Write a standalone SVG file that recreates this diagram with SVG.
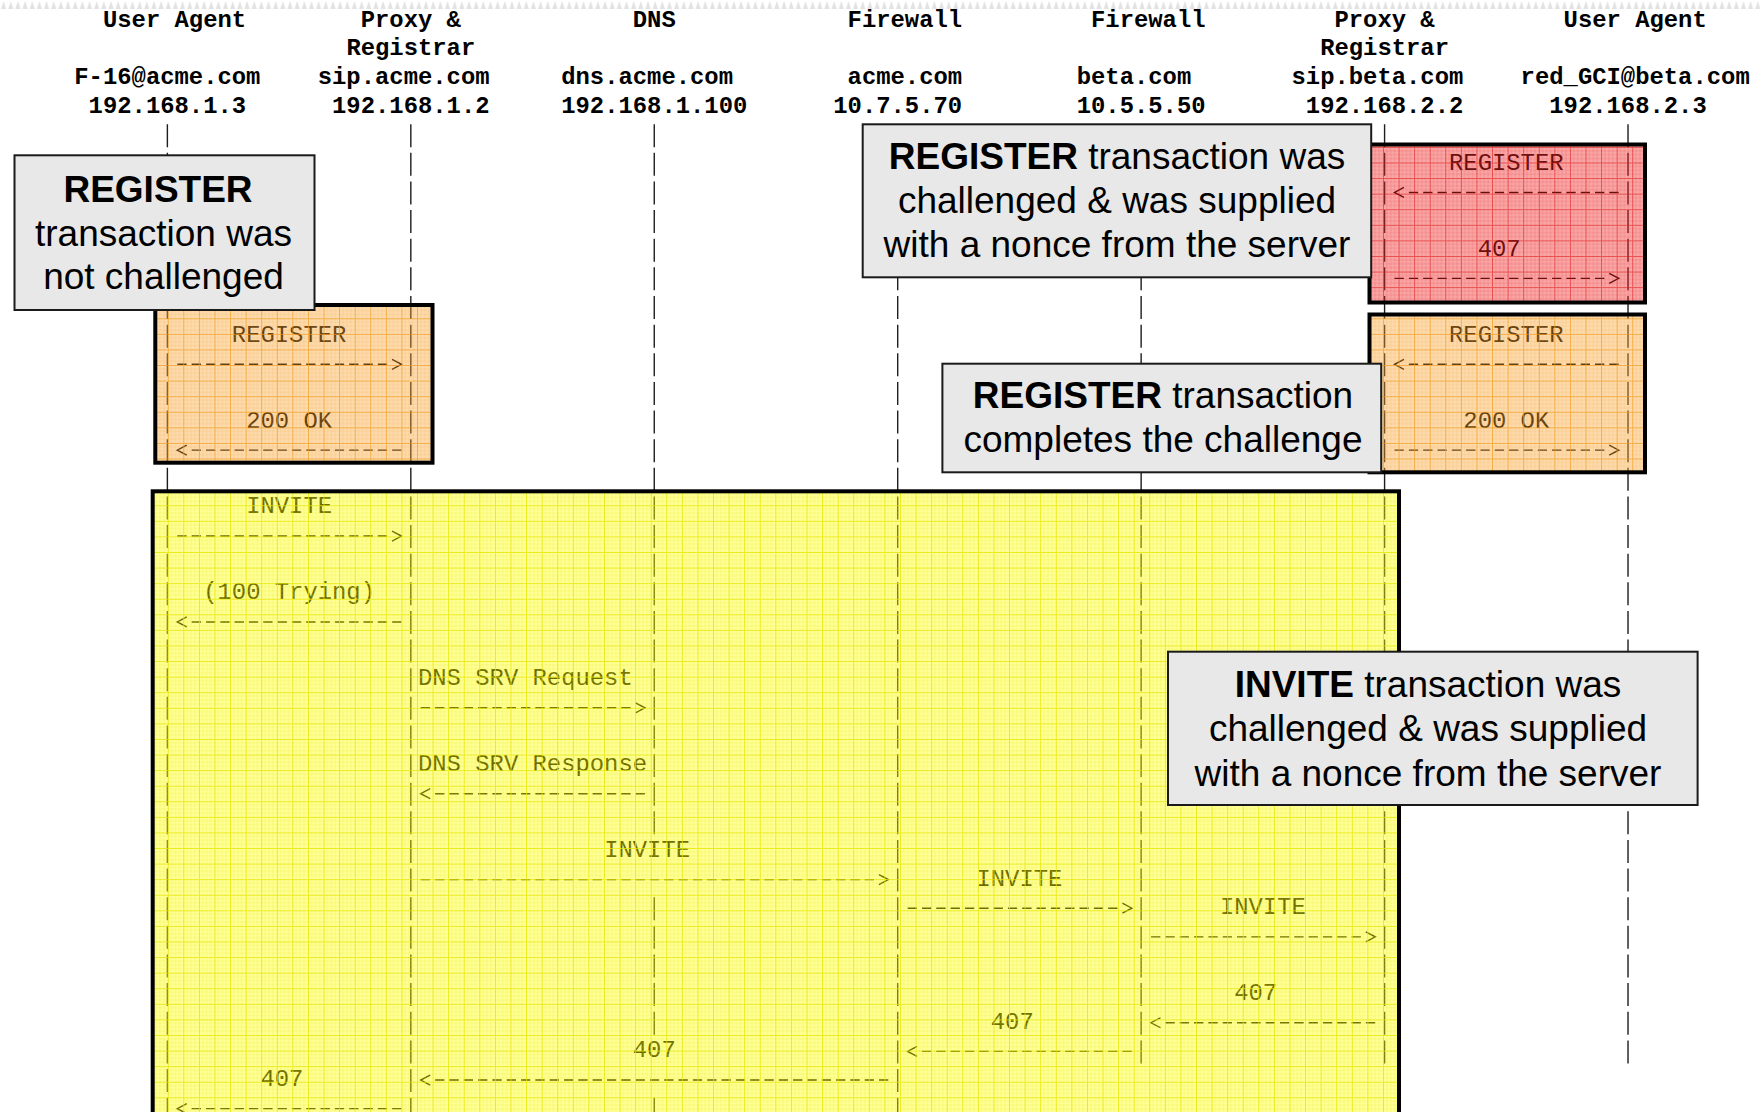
<svg xmlns="http://www.w3.org/2000/svg" width="1762" height="1112" viewBox="0 0 1762 1112">
  <style>
    .hdr { font-family: "Liberation Mono", "Courier New", monospace; font-size: 23.87px; font-weight: bold; fill: #000; }
    .msg { font-family: "Liberation Mono", "Courier New", monospace; font-size: 23.87px; fill: #000; }
    .life { stroke: #1e1e1e; stroke-width: 1.4; stroke-dasharray: 23 5.63; fill: none; }
    .arrow { stroke: #000; stroke-width: 1.4; stroke-dasharray: 9.3 5.02; fill: none; marker-end: url(#chev); }
    .hl { stroke: #000; stroke-width: 4; }
    .note rect { fill: #e8e8e8; stroke: #1a1a1a; stroke-width: 2; }
    .note text { font-family: "Liberation Sans", Arial, sans-serif; font-size: 37px; fill: #000; text-anchor: middle; }
    .note .b { font-weight: bold; }
  </style>
  <defs>
    <!-- open chevron drawn one character cell past the last dash -->
    <marker id="chev" markerUnits="userSpaceOnUse" orient="auto" viewBox="0 -7 20 14" refX="0" refY="0" markerWidth="20" markerHeight="14" overflow="visible">
      <path d="M4.9,-5 L14.4,0 L4.9,5" fill="none" stroke="#000" stroke-width="1.4" stroke-dasharray="none"/>
    </marker>
    <!-- graph-paper fills for the highlighted transactions -->
    <pattern id="gridOrange" patternUnits="userSpaceOnUse" x="11.92" y="6.7" width="15.58" height="15.58">
      <rect width="15.58" height="15.58" fill="#f7a02a" fill-opacity="0.38"/>
      <path d="M3.9,0V15.58M7.79,0V15.58M11.69,0V15.58M0,3.9H15.58M0,7.79H15.58M0,11.69H15.58" stroke="#f39a1a" stroke-opacity="0.25" stroke-width="0.7"/>
      <path d="M0.5,0V15.58M0,0.5H15.58" stroke="#f39a1a" stroke-opacity="0.7" stroke-width="1"/>
    </pattern>
    <pattern id="gridYellow" patternUnits="userSpaceOnUse" x="11.92" y="6.7" width="15.58" height="15.58">
      <rect width="15.58" height="15.58" fill="#ffff00" fill-opacity="0.4"/>
      <path d="M3.9,0V15.58M7.79,0V15.58M11.69,0V15.58M0,3.9H15.58M0,7.79H15.58M0,11.69H15.58" stroke="#e8e800" stroke-opacity="0.3" stroke-width="0.7"/>
      <path d="M0.5,0V15.58M0,0.5H15.58" stroke="#e6e600" stroke-opacity="0.8" stroke-width="1"/>
    </pattern>
    <pattern id="gridRed" patternUnits="userSpaceOnUse" x="11.92" y="6.7" width="15.58" height="15.58">
      <rect width="15.58" height="15.58" fill="#f02020" fill-opacity="0.4"/>
      <path d="M3.9,0V15.58M7.79,0V15.58M11.69,0V15.58M0,3.9H15.58M0,7.79H15.58M0,11.69H15.58" stroke="#e82020" stroke-opacity="0.25" stroke-width="0.7"/>
      <path d="M0.5,0V15.58M0,0.5H15.58" stroke="#e01818" stroke-opacity="0.6" stroke-width="1"/>
    </pattern>
    <pattern id="edge" patternUnits="userSpaceOnUse" x="0" y="0" width="7.16" height="10">
      <path d="M1,9 L3.6,1 L6.2,9 Z" fill="#e2e2e2"/>
    </pattern>
  </defs>

  <rect width="1762" height="1112" fill="#fff"/>
  <rect x="0" y="0" width="1762" height="10" fill="url(#edge)"/>

  <!-- participants: header text and lifeline -->
  <g id="ua-f16">
    <text class="hdr" x="102.94" y="26.7">User Agent</text>
    <text class="hdr" x="74.3" y="83.96">F-16@acme.com</text>
    <text class="hdr" x="88.62" y="112.59">192.168.1.3</text>
    <line class="life" x1="167.38" y1="124.22" x2="167.38" y2="1120.64"/>
  </g>
  <g id="proxy-acme">
    <text class="hdr" x="360.7" y="26.7">Proxy &amp;</text>
    <text class="hdr" x="346.38" y="55.33">Registrar</text>
    <text class="hdr" x="317.74" y="83.96">sip.acme.com</text>
    <text class="hdr" x="332.06" y="112.59">192.168.1.2</text>
    <line class="life" x1="410.82" y1="124.22" x2="410.82" y2="1120.64"/>
  </g>
  <g id="dns-acme">
    <text class="hdr" x="632.78" y="26.7">DNS</text>
    <text class="hdr" x="561.18" y="83.96">dns.acme.com</text>
    <text class="hdr" x="561.18" y="112.59">192.168.1.100</text>
    <line class="life" x1="654.26" y1="124.22" x2="654.26" y2="834.34"/>
    <line class="life" x1="654.26" y1="897.23" x2="654.26" y2="1034.75"/>
    <line class="life" x1="654.26" y1="1097.64" x2="654.26" y2="1120.64"/>
  </g>
  <g id="fw-acme">
    <text class="hdr" x="847.58" y="26.7">Firewall</text>
    <text class="hdr" x="847.58" y="83.96">acme.com</text>
    <text class="hdr" x="833.26" y="112.59">10.7.5.70</text>
    <line class="life" x1="897.7" y1="124.22" x2="897.7" y2="1120.64"/>
  </g>
  <g id="fw-beta">
    <text class="hdr" x="1091.02" y="26.7">Firewall</text>
    <text class="hdr" x="1076.7" y="83.96">beta.com</text>
    <text class="hdr" x="1076.7" y="112.59">10.5.5.50</text>
    <line class="life" x1="1141.14" y1="124.22" x2="1141.14" y2="1063.38"/>
  </g>
  <g id="proxy-beta">
    <text class="hdr" x="1334.46" y="26.7">Proxy &amp;</text>
    <text class="hdr" x="1320.14" y="55.33">Registrar</text>
    <text class="hdr" x="1291.5" y="83.96">sip.beta.com</text>
    <text class="hdr" x="1305.82" y="112.59">192.168.2.2</text>
    <line class="life" x1="1384.58" y1="124.22" x2="1384.58" y2="1063.38"/>
  </g>
  <g id="ua-red">
    <text class="hdr" x="1563.58" y="26.7">User Agent</text>
    <text class="hdr" x="1520.62" y="83.96">red_GCI@beta.com</text>
    <text class="hdr" x="1549.26" y="112.59">192.168.2.3</text>
    <line class="life" x1="1628.02" y1="124.22" x2="1628.02" y2="1063.38"/>
  </g>

  <!-- messages -->
  <g id="connectors">
    <!-- REGISTER F-16 -> sip.acme -->
    <text class="msg" x="231.82" y="341.63">REGISTER</text>
    <path class="arrow" d="M177.34,364.26H387.12"/>
    <text class="msg" x="246.14" y="427.52">200 OK</text>
    <path class="arrow" d="M401.44,450.15H191.66"/>

    <!-- REGISTER red_GCI -> sip.beta, challenged -->
    <text class="msg" x="1449.02" y="169.85">REGISTER</text>
    <path class="arrow" d="M1618.64,192.48H1408.86"/>
    <text class="msg" x="1477.66" y="255.74">407</text>
    <path class="arrow" d="M1394.54,278.37H1604.32"/>

    <!-- REGISTER red_GCI -> sip.beta, with credentials -->
    <text class="msg" x="1449.02" y="341.63">REGISTER</text>
    <path class="arrow" d="M1618.64,364.26H1408.86"/>
    <text class="msg" x="1463.34" y="427.52">200 OK</text>
    <path class="arrow" d="M1394.54,450.15H1604.32"/>

    <!-- INVITE towards beta.com -->
    <text class="msg" x="246.14" y="513.41">INVITE</text>
    <path class="arrow" d="M177.34,536.04H387.12"/>
    <text class="msg" x="203.18" y="599.3">(100 Trying)</text>
    <path class="arrow" d="M401.44,621.93H191.66"/>
    <text class="msg" x="417.98" y="685.19">DNS SRV Request</text>
    <path class="arrow" d="M420.78,707.82H630.56"/>
    <text class="msg" x="417.98" y="771.08">DNS SRV Response</text>
    <path class="arrow" d="M644.88,793.71H435.1"/>
    <text class="msg" x="604.14" y="856.97">INVITE</text>
    <path class="arrow" d="M420.78,879.6H874"/>
    <text class="msg" x="976.46" y="885.6">INVITE</text>
    <path class="arrow" d="M907.66,908.23H1117.44"/>
    <text class="msg" x="1219.9" y="914.23">INVITE</text>
    <path class="arrow" d="M1151.1,936.86H1360.88"/>

    <!-- 407 back to the caller -->
    <text class="msg" x="1234.22" y="1000.12">407</text>
    <path class="arrow" d="M1375.2,1022.75H1165.42"/>
    <text class="msg" x="990.78" y="1028.75">407</text>
    <path class="arrow" d="M1131.76,1051.38H921.98"/>
    <text class="msg" x="632.78" y="1057.38">407</text>
    <path class="arrow" d="M888.32,1080.01H435.1"/>
    <text class="msg" x="260.46" y="1086.01">407</text>
    <path class="arrow" d="M401.44,1108.64H191.66"/>
  </g>

  <!-- highlighted transactions -->
  <g id="tx-register-acme">
    <rect class="hl" x="155.3" y="305" width="277.2" height="157.7" fill="url(#gridOrange)"/>
  </g>
  <g id="tx-register-beta-407">
    <rect class="hl" x="1369.5" y="144.5" width="275.5" height="158" fill="url(#gridRed)"/>
  </g>
  <g id="tx-register-beta-200">
    <rect class="hl" x="1369.5" y="314.5" width="275.5" height="157.8" fill="url(#gridOrange)"/>
  </g>
  <g id="tx-invite">
    <rect class="hl" x="152.7" y="491.3" width="1246.3" height="680" fill="url(#gridYellow)"/>
  </g>

  <!-- callouts -->
  <g id="note-register-unchallenged" class="note">
    <rect x="14.5" y="155.3" width="300" height="154.7"/>
    <text x="158" y="201.7" class="b">REGISTER</text>
    <text x="163.5" y="245.5">transaction was</text>
    <text x="163.5" y="289.3">not challenged</text>
  </g>
  <g id="note-register-challenged" class="note">
    <rect x="862.7" y="124.3" width="508.5" height="153"/>
    <text x="1117" y="169.3"><tspan class="b">REGISTER</tspan> transaction was</text>
    <text x="1117" y="212.8">challenged &amp; was supplied</text>
    <text x="1117" y="256.5">with a nonce from the server</text>
  </g>
  <g id="note-register-completes" class="note">
    <rect x="942.4" y="363.7" width="438.8" height="108.6"/>
    <text x="1163" y="408.3"><tspan class="b">REGISTER</tspan> transaction</text>
    <text x="1163" y="452.1">completes the challenge</text>
  </g>
  <g id="note-invite-challenged" class="note">
    <rect x="1168" y="651.7" width="529.6" height="153.3"/>
    <text x="1428" y="697.3"><tspan class="b">INVITE</tspan> transaction was</text>
    <text x="1428" y="741">challenged &amp; was supplied</text>
    <text x="1428" y="785.5">with a nonce from the server</text>
  </g>
</svg>
